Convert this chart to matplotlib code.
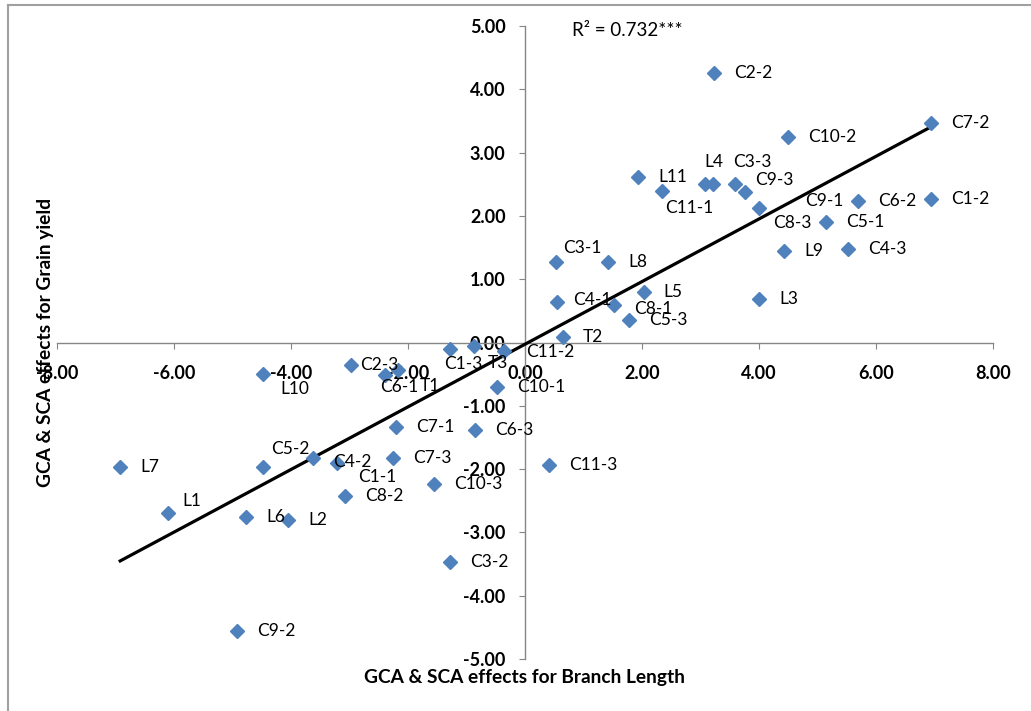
import numpy as np
import matplotlib
matplotlib.use("Agg")
import matplotlib.pyplot as plt
from matplotlib.lines import Line2D

plt.rcParams['font.family'] = ['Lato', 'DejaVu Sans']

# ---------------- data ----------------
labels = ["C2-2", "C10-2", "C7-2", "L11", "C11-1", "L4", "C9-1", "C3-3", "C9-3", "C8-3",
          "C6-2", "C1-2", "C5-1", "L9", "C4-3", "L3", "C3-1", "L8", "L5", "C4-1",
          "C8-1", "C5-3", "T2", "C2-3", "T1", "C6-1", "C1-3", "T3", "C11-2", "C10-1",
          "C7-1", "C6-3", "C5-2", "C4-2", "C1-1", "C7-3", "C10-3", "C8-2", "L6", "L2",
          "L7", "L1", "L10", "C3-2", "C9-2", "C11-3"]

branch_length = [3.23, 4.50, 6.94, 1.93, 2.34, 3.08, 3.21, 3.59, 3.76, 4.00,
                 5.69, 6.94, 5.15, 4.43, 5.52, 4.00, 0.53, 1.42, 2.03, 0.55,
                 1.52, 1.78, 0.65, -2.97, -2.17, -2.39, -1.28, -0.87, -0.36, -0.48,
                 -2.21, -0.86, -4.48, -3.62, -3.21, -2.26, -1.56, -3.08, -4.77, -4.05,
                 -6.92, -6.10, -4.48, -1.28, -4.92, 0.41]

grain_yield = [4.25, 3.25, 3.46, 2.62, 2.39, 2.50, 2.50, 2.50, 2.37, 2.13,
               2.23, 2.27, 1.91, 1.44, 1.48, 0.68, 1.27, 1.27, 0.79, 0.64,
               0.60, 0.36, 0.09, -0.35, -0.44, -0.51, -0.10, -0.06, -0.14, -0.70,
               -1.34, -1.39, -1.97, -1.82, -1.90, -1.82, -2.24, -2.43, -2.76, -2.81,
               -1.97, -2.69, -0.49, -3.46, -4.55, -1.94]

x_ticks = [-8, -6, -4, -2, 0, 2, 4, 6, 8]
y_ticks = [-5, -4, -3, -2, -1, 0, 1, 2, 3, 4, 5]
r2_text = "R² = 0.732***"
x_title = "GCA & SCA effects for Branch Length"
y_title = "GCA & SCA effects for Grain yield"

# label offsets (pixels, dx right, dy down) - style only
label_offsets = {
    "C11-1": (3, 17), "L4": (-1, -22), "C9-1": (92, 17), "C3-3": (-2, -22),
    "C9-3": (10, -12), "C8-3": (14, 15), "C3-1": (7, -14), "C4-1": (16, -2),
    "C8-1": (20, 4), "C11-2": (22, 1), "T3": (14, 17), "C1-3": (-6, 15),
    "C2-3": (9, 0), "T1": (22, 16), "C6-1": (-5, 12), "L10": (17, 15),
    "C5-2": (8, -18), "C4-2": (20, 4), "C1-1": (21, 14), "L1": (14, -12),
}
default_offset = (20, 0)

# ---------------- figure ----------------
W, H = 1031, 711
fig = plt.figure(figsize=(W / 100, H / 100), dpi=100)
ax = fig.add_axes([57 / W, 1 - 659 / H, (993 - 57) / W, (659 - 26) / H])

blue = "#4F81BD"
gray = "#868686"

x = np.array(branch_length)
y = np.array(grain_yield)

# trend line (least squares)
slope, intercept = np.polyfit(x, y, 1)
xl = np.array([x.min(), x.max()])
ax.plot(xl, slope * xl + intercept, color="black", lw=2.3, zorder=3)

ax.plot(x, y, linestyle="none", marker="D", ms=7.2, color=blue,
        markeredgecolor=blue, zorder=4)

for lab, xi, yi in zip(labels, x, y):
    dx, dy = label_offsets.get(lab, default_offset)
    ax.annotate(lab, (xi, yi), xytext=(dx, -dy), textcoords="offset pixels",
                ha="left", va="center", fontsize=12.5, color="black", zorder=5)

ax.set_xlim(-8, 8)
ax.set_ylim(-5, 5)
ax.set_xticks(x_ticks)
ax.set_yticks(y_ticks)
ax.xaxis.set_major_formatter(plt.FuncFormatter(lambda v, p: f"{v:.2f}"))
ax.yaxis.set_major_formatter(plt.FuncFormatter(lambda v, p: f"{v:.2f}"))

for s in ["top", "right"]:
    ax.spines[s].set_visible(False)
ax.spines["left"].set_position(("data", 0))
ax.spines["bottom"].set_position(("data", 0))
for s in ["left", "bottom"]:
    ax.spines[s].set_color(gray)
    ax.spines[s].set_linewidth(1.0)

ax.tick_params(axis="x", direction="out", length=4, color=gray, pad=12.5,
               labelsize=13)
ax.tick_params(axis="y", direction="out", length=4, color=gray, pad=10,
               labelsize=13)
for t in ax.get_xticklabels() + ax.get_yticklabels():
    t.set_fontweight("bold")

ax.text(0.80, 4.93, r2_text, ha="left", va="center", fontsize=13.5)

fig.text(525 / W, 1 - 677 / H, x_title, ha="center", va="center",
         fontsize=13.8, fontweight="bold")
fig.text(45 / W, 1 - 342 / H, y_title, ha="center", va="center",
         rotation=90, fontsize=13.8, fontweight="bold")

# chart area border (left and top visible)
fig.add_artist(Line2D([7.5 / W, 7.5 / W], [0, 1 - 5 / H], transform=fig.transFigure,
                      color="#A0A0A0", lw=1.5))
fig.add_artist(Line2D([7.5 / W, 1], [1 - 5 / H, 1 - 5 / H], transform=fig.transFigure,
                      color="#A0A0A0", lw=1.5))

fig.savefig("out.png", dpi=100)
